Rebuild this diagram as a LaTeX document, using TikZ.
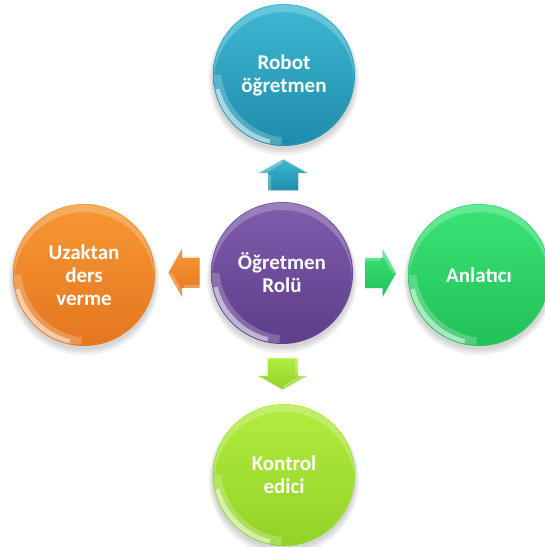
\documentclass[tikz,border=0pt]{standalone}
\usepackage{fontspec}
\setmainfont{Carlito}
\usetikzlibrary{calc}
\definecolor{tealT}{RGB}{62,184,212}
\definecolor{tealB}{RGB}{30,140,170}
\definecolor{purpT}{RGB}{128,92,172}
\definecolor{purpB}{RGB}{92,62,138}
\definecolor{orgT}{RGB}{247,152,52}
\definecolor{orgB}{RGB}{228,118,32}
\definecolor{grnT}{RGB}{58,228,118}
\definecolor{grnB}{RGB}{34,192,88}
\definecolor{limT}{RGB}{178,236,64}
\definecolor{limB}{RGB}{146,210,38}
\tikzset{
  ball/.style={circle, minimum size=142pt, inner sep=0pt, text=white,
    font=\bfseries\fontsize{21}{23}\selectfont, align=center},
  softshadow/.style={fill=black, opacity=0.06},
}
\newcommand{\gloss}[1]{%
  \begin{scope}
    \clip (#1.center) circle (70pt);
    \fill[white, opacity=0.22, even odd rule] (#1.center) circle (70pt) ($(#1.center)+(0,-7)$) circle (70pt);
  \end{scope}
  \begin{scope}
    \clip (#1.center) -- ++(180:90pt) arc[start angle=180,end angle=268,radius=90pt] -- cycle;
    \fill[white, opacity=0.22, even odd rule] (#1.center) circle (70pt) ($(#1.center)+(7,7)$) circle (70pt);
  \end{scope}
  \begin{scope}
    \clip (#1.center) -- ++(192:90pt) arc[start angle=192,end angle=258,radius=90pt] -- cycle;
    \fill[white, opacity=0.5, even odd rule] (#1.center) circle (70pt) ($(#1.center)+(3.5,3.5)$) circle (70pt);
  \end{scope}}
\newcommand{\shadowball}[1]{%
  \fill[softshadow] ($(#1)+(0,-3)$) circle (72pt);
  \fill[softshadow] ($(#1)+(0,-4)$) circle (73.5pt);
  \fill[softshadow] ($(#1)+(0,-5)$) circle (75pt);}
\newcommand{\sarrow}[5]{%
  \begin{scope}[shift={#1}, rotate=#2]
    \fill[black, opacity=0.08] (-15.5,-16.5)--(2,-16.5)--(2,-25.5)--(16.5,-1.5)--(2,22.5)--(2,13.5)--(-15.5,13.5)--cycle;
    \shade[top color=#3, bottom color=#4] (-15.5,-15)--(2,-15)--(2,-24)--(15.5,0)--(2,24)--(2,15)--(-15.5,15)--cycle;
    \fill[white, opacity=0.25] (-15.5,15)--(2,15)--(2,24)--(15.5,0)--(12,0)--(0,20)--(0,12)--(-15.5,12)--cycle;
    \node[inner sep=0pt] (#5) at (0,0) {};
  \end{scope}}
\begin{document}
\begin{tikzpicture}[x=1pt,y=1pt]
  \useasboundingbox (0,0) rectangle (545,547);
  \clip (0,0) rectangle (545,547);
  \coordinate (cT) at (284,472);
  \coordinate (cC) at (282,274);
  \coordinate (cL) at (84,272);
  \coordinate (cR) at (479,272);
  \coordinate (cB) at (284,72);
  \shadowball{cT}
  \shadowball{cC}
  \shadowball{cL}
  \shadowball{cR}
  \shadowball{cB}
  \node[ball, top color=tealT, bottom color=tealB] (nT) at (cT) {Robot\\öğretmen};
  \node[ball, top color=purpT, bottom color=purpB] (nC) at (cC) {Öğretmen\\Rolü};
  \node[ball, top color=orgT, bottom color=orgB] (nL) at (cL) {Uzaktan\\ders\\verme};
  \node[ball, top color=grnT, bottom color=grnB] (nR) at (cR) {Anlatıcı};
  \node[ball, top color=limT, bottom color=limB] (nB) at (cB) {Kontrol\\edici};
  \gloss{nT}
  \gloss{nC}
  \gloss{nL}
  \gloss{nR}
  \gloss{nB}
  \sarrow{($(nC)!0.5!(nT)+(0,-1)$)}{90}{tealT}{tealB}{aT}
  \sarrow{($(nC)!0.5!(nL)+(1,1)$)}{180}{orgT}{orgB}{aL}
  \sarrow{($(nC)!0.5!(nR)+(0,1)$)}{0}{grnT}{grnB}{aR}
  \sarrow{($(nC)!0.5!(nB)$)}{-90}{limT}{limB}{aB}
\end{tikzpicture}
\end{document}
